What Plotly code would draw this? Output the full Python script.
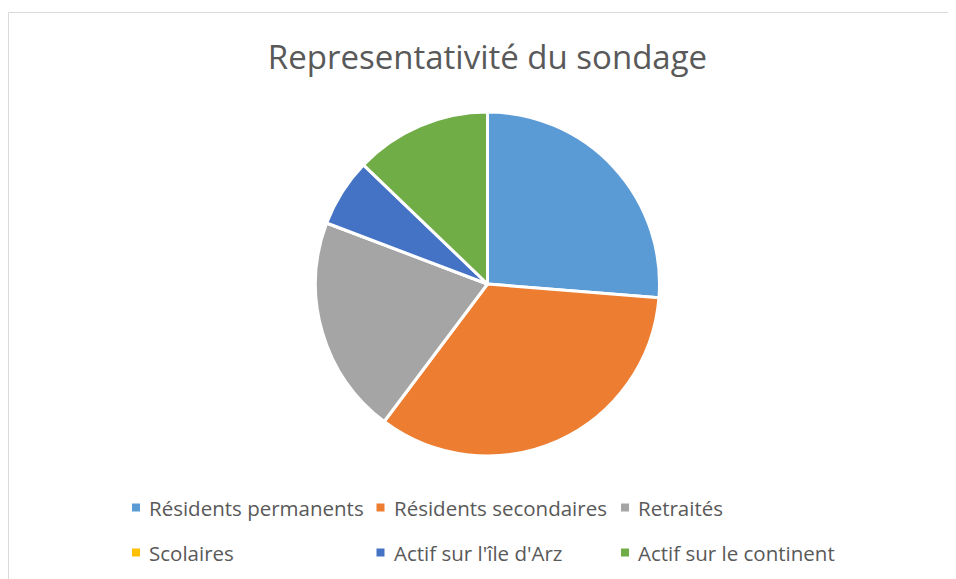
import plotly.graph_objects as go

categories = ["Résidents permanents", "Résidents secondaires", "Retraités",
              "Scolaires", "Actif sur l'île d'Arz", "Actif sur le continent"]
values = [41, 53, 32, 0, 10, 20]
colors = ["#5B9BD5", "#ED7D31", "#A5A5A5", "#FFC000", "#4472C4", "#70AD47"]
title_text = "Representativité du sondage"

# page has an 8px body margin; figure is sized so it ends at the window edge
OFF = 8
W, H = 956 - OFF, 579 - OFF


def X(px):
    return (px - OFF) / W


def Y(py):
    return 1 - (py - OFF) / H


cx, cy, r = 487.5, 284, 172
FONT = "Open Sans"
GREY = "#595959"
BORDER = "#D9D9D9"

fig = go.Figure(go.Pie(
    labels=categories, values=values, sort=False, direction="clockwise", rotation=0,
    marker=dict(colors=colors, line=dict(color="white", width=3)),
    textinfo="none", hoverinfo="label+value+percent", showlegend=False,
    domain=dict(x=[X(cx - r), X(cx + r)], y=[Y(cy + r), Y(cy - r)]),
))

shapes = [
    dict(type="line", xref="paper", yref="paper", x0=X(8.5), x1=1.0, y0=Y(12.5), y1=Y(12.5),
         line=dict(color=BORDER, width=1), layer="below"),
    dict(type="line", xref="paper", yref="paper", x0=X(8.5), x1=X(8.5), y0=Y(12.5), y1=0.0,
         line=dict(color=BORDER, width=1), layer="below"),
]
annotations = []

col_x = [132, 376.5, 621]
row_y = [507.5, 552.5]
sq = 8
for i, (lab, col) in enumerate(zip(categories, colors)):
    mx = col_x[i % 3]
    my = row_y[i // 3]
    shapes.append(dict(type="rect", xref="paper", yref="paper",
                       x0=X(mx), x1=X(mx + sq), y0=Y(my + sq / 2), y1=Y(my - sq / 2),
                       line=dict(width=0), fillcolor=col))
    annotations.append(dict(text=lab, xref="paper", yref="paper",
                            x=X(mx + sq + 8), y=Y(my + 0.5), xanchor="left", yanchor="middle",
                            showarrow=False, borderpad=0,
                            font=dict(size=20.5, color=GREY, family=FONT)))

fig.update_layout(
    width=W, height=H, margin=dict(l=0, r=0, t=0, b=0),
    paper_bgcolor="white", plot_bgcolor="white",
    font=dict(family=FONT, color=GREY),
    title=dict(text=title_text, x=X(487.5), xanchor="center",
               y=Y(57), yanchor="middle",
               font=dict(size=33, color=GREY, family=FONT)),
    shapes=shapes, annotations=annotations,
)

fig.write_html("out.html")
